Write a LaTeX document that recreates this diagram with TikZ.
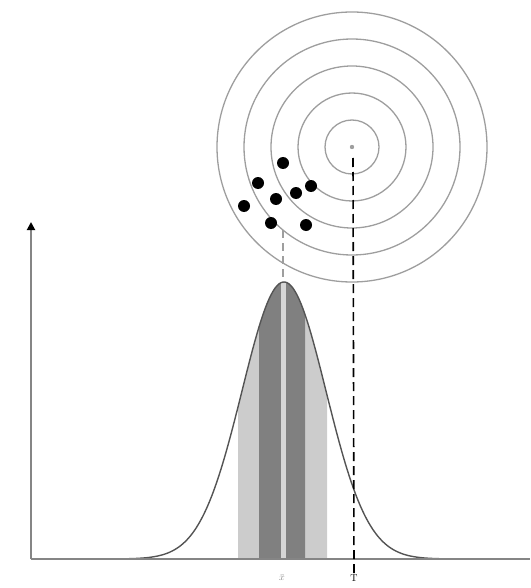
\documentclass[tikz,border=0pt]{standalone}
\usetikzlibrary{arrows.meta}
\definecolor{ringgray}{gray}{0.62}
\definecolor{axisgray}{gray}{0.52}
\definecolor{curvegray}{gray}{0.33}
\definecolor{lightband}{gray}{0.80}
\definecolor{darkband}{gray}{0.50}
\definecolor{stripe}{gray}{0.84}
\tikzset{
  ring/.style={draw=ringgray, line width=1.3pt},
  shot/.style={circle, fill=black, inner sep=0pt, minimum size=12pt},
  axisline/.style={draw=axisgray, line width=1.8pt},
  bell/.style={draw=curvegray, line width=1.4pt},
  truedash/.style={draw=black, line width=1.6pt, dash pattern=on 9pt off 5pt},
  meandash/.style={draw=ringgray, line width=1.6pt, dash pattern=on 8pt off 5pt},
  lbl/.style={inner sep=1pt, font=\fontsize{10}{10}\selectfont}
}
\begin{document}
\begin{tikzpicture}[x=1pt,y=-1pt]
\useasboundingbox (0,0) rectangle (530,588);
% target rings
\coordinate (ctr) at (352,147);
\foreach \r in {27,54,81,108,135} \draw[ring] (ctr) circle (\r);
\fill[ringgray] (ctr) circle (2.2);
% shots
\node[shot] (s1) at (283,163) {};
\node[shot] (s2) at (258,183) {};
\node[shot] (s3) at (311,186) {};
\node[shot] (s4) at (296,193) {};
\node[shot] (s5) at (276,199) {};
\node[shot] (s6) at (244,206) {};
\node[shot] (s7) at (271,223) {};
\node[shot] (s8) at (306,225) {};
% bands under the bell curve
\fill[lightband] plot[domain=238:327,samples=60] (\x,{559-277*exp(-0.5*((\x-284)/42)^2)}) -- (327,559) -- (238,559) -- cycle;
\fill[darkband] plot[domain=259:305,samples=40] (\x,{559-277*exp(-0.5*((\x-284)/42)^2)}) -- (305,559) -- (259,559) -- cycle;
\draw[stripe, line width=5pt] (283,559) -- (283,283);
% bell curve
\draw[bell] plot[domain=60:500,samples=220] (\x,{559-277*exp(-0.5*((\x-284)/42)^2)});
% axes
\coordinate (origin) at (31,559);
\coordinate (ytip) at (31,222);
\coordinate (xend) at (530,559);
\draw[axisline] (origin) -- (xend);
\draw[axisline, -{Triangle[length=8pt,width=8pt,color=black]}] (origin) -- (ytip);
% labels
\node[lbl, text=axisgray] (xbar) at (282,578) {$\bar{x}$};
\node[lbl, text=black] (tval) at (354,578) {T};
% dashed lines
\coordinate (peak) at (283,281);
\coordinate (shotmean) at (283,230);
\draw[meandash] (shotmean) -- (peak);
\coordinate (ctrlow) at (353,158);
\draw[truedash] (ctrlow) -- (tval.north);
\end{tikzpicture}
\end{document}
